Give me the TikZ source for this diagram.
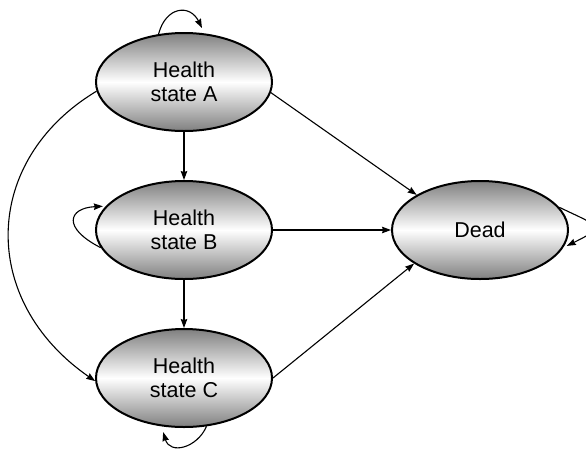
\documentclass[tikz,border=0pt]{standalone}
\usepackage{fontspec}
\setmainfont{Liberation Sans}
\usetikzlibrary{shapes.geometric,arrows.meta}
\begin{document}
\begin{tikzpicture}[x=1pt,y=-1pt,
  statebox/.style={ellipse, draw=black, line width=2pt, minimum width=176pt, minimum height=98pt,
    inner sep=0pt, top color=black!50, bottom color=black!50, middle color=white,
    align=center, font=\fontsize{21.5}{24.5}\selectfont},
  conn/.style={line width=1.1pt, -{Stealth[length=9pt,width=6.5pt,inset=1pt]}}]
\useasboundingbox (0,0) rectangle (586,448);
\node[statebox] (A) at (184,82) {Health\\state A};
\node[statebox] (B) at (184,230) {Health\\state B};
\node[statebox] (C) at (184,378) {Health\\state C};
\node[statebox] (D) at (480,230) {Dead};
% straight transitions
\draw[conn] (A.south) -- (B.north);
\draw[conn] (B.south) -- (C.north);
\draw[conn] (B.east) -- (D.west);
\draw[conn] (A.-7) -- (D.151);
\draw[conn] (C.east) -- (D.207);
% A to C
\draw[conn] (A.186) .. controls (-18,160) and (-22,300) .. (C.182);
% self loops
\draw[conn, shorten >=6pt] (A.118) .. controls (166,6) and (190,4) .. (A.67);
\draw[conn, shorten >=3pt] (B.192) .. controls (62,228) and (68,208) .. (B.163);
\draw[conn, shorten >=6pt] (C.-65) .. controls (197,448) and (170,455) .. (C.-115);
\draw[conn, shorten >=4pt] (D.16) .. controls (600,227) and (607,226) .. (D.-12);
\end{tikzpicture}
\end{document}
